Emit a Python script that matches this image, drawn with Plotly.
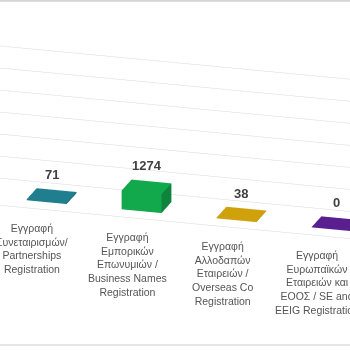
import plotly.graph_objects as go

# ---- data ----
categories = [
    "Εγγραφή<br>Συνεταιρισμών/<br>Partnerships<br>Registration",
    "Εγγραφή<br>Εμπορικών<br>Επωνυμιών /<br>Business Names<br>Registration",
    "Εγγραφή<br>Αλλοδαπών<br>Εταιρειών /<br>Overseas Co<br>Registration",
    "Εγγραφή<br>Ευρωπαϊκών<br>Εταιρειών και<br>ΕΟΟΣ / SE and<br>EEIG Registration",
]
values = [71, 1274, 38, 0]
colors = ["#1F7F8E", "#12A84C", "#CFA20C", "#5A1F8E"]


def shade(hexcol, f):
    h = hexcol.lstrip("#")
    r, g, b = (int(h[i:i + 2], 16) for i in (0, 2, 4))
    return "#%02x%02x%02x" % (min(255, int(r * f)), min(255, int(g * f)), min(255, int(b * f)))


BAR_W = 0.42
Y0, Y1 = 0.28, 0.72

fig = go.Figure()
for i, (v, c) in enumerate(zip(values, colors)):
    x0, x1 = i - BAR_W / 2, i + BAR_W / 2
    xs = [x0, x1, x1, x0, x0, x1, x1, x0]
    ys = [Y0, Y0, Y1, Y1, Y0, Y0, Y1, Y1]
    zs = [0, 0, 0, 0, v, v, v, v]
    I = [0, 0, 4, 4, 0, 0, 3, 3, 0, 0, 1, 1]
    J = [1, 2, 5, 6, 1, 5, 2, 6, 3, 7, 2, 6]
    K = [2, 3, 6, 7, 5, 4, 6, 7, 7, 4, 6, 5]
    fc = [shade(c, 0.7)] * 2 + [shade(c, 1.0)] * 2 + [c] * 2 + [shade(c, 0.7)] * 2 \
        + [shade(c, 0.75)] * 2 + [shade(c, 0.78)] * 2
    fig.add_trace(go.Mesh3d(
        x=xs, y=ys, z=zs, i=I, j=J, k=K, facecolor=fc, flatshading=True,
        lighting=dict(ambient=1, diffuse=0, specular=0, roughness=1, fresnel=0),
        hoverinfo="skip", showscale=False))

annotations = []
for i, v in enumerate(values):
    annotations.append(dict(
        x=i, y=(Y0 + Y1) / 2, z=v, text="<b>%d</b>" % v, showarrow=False,
        yshift=21, font=dict(family="Liberation Sans", size=13, color="#404040")))
    annotations.append(dict(
        x=i, y=0, z=0, text=categories[i], showarrow=False, xanchor="center",
        yanchor="top", yshift=-11, xshift=-8,
        font=dict(family="Liberation Sans", size=10.5, color="#555555")))

SCALE = 1.13
d = 2.14
cx, cy, cz = 0.0, 0.0, -0.175 * SCALE
dirv = (0.266, -0.908, 0.325)

axis_common = dict(showticklabels=False, title=dict(text=""), showspikes=False,
                   showbackground=False, zeroline=False, ticks="")
fig.update_layout(
    width=350, height=350, margin=dict(l=0, r=0, t=0, b=0),
    paper_bgcolor="white", showlegend=False,
    scene=dict(
        domain=dict(x=[0, 1], y=[0, 1]),
        xaxis=dict(range=[-1.2, 3.8], showgrid=False, showline=True,
                   linecolor="#d9d9d9", linewidth=1, **axis_common),
        yaxis=dict(range=[0, 1], showgrid=False, showline=False, **axis_common),
        zaxis=dict(range=[0, 9000], dtick=1500, showgrid=True, gridcolor="#d9d9d9",
                   gridwidth=1, showline=False, **axis_common),
        aspectmode="manual",
        aspectratio=dict(x=2.5 * SCALE, y=0.405 * SCALE, z=0.707 * SCALE),
        camera=dict(projection=dict(type="orthographic"), up=dict(x=0, y=0, z=1),
                    center=dict(x=cx, y=cy, z=cz),
                    eye=dict(x=cx + d * dirv[0], y=cy + d * dirv[1], z=cz + d * dirv[2])),
        annotations=annotations,
        dragmode=False,
    ),
    shapes=[
        dict(type="line", xref="paper", yref="paper", x0=0, x1=1, y0=0.998, y1=0.998,
             line=dict(color="#d4d4d4", width=2)),
        dict(type="line", xref="paper", yref="paper", x0=0, x1=1, y0=0.014, y1=0.014,
             line=dict(color="#e6e6e6", width=2)),
    ],
)
fig.write_html("out.html")
